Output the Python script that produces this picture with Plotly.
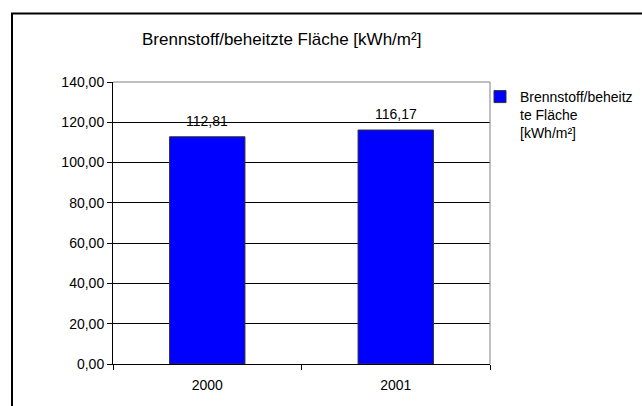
import plotly.graph_objects as go

# ── Daten ────────────────────────────────────────────────────────────────────
YEARS = ["2000", "2001"]
VALUES = [112.81, 116.17]
SERIES_NAME = "Brennstoff/beheitz<br>te Fläche<br>[kWh/m²]"
TITLE = "Brennstoff/beheitzte Fläche [kWh/m²]"
Y_TICKS = [0, 20, 40, 60, 80, 100, 120, 140]

FONT = "Arial, Liberation Sans, sans-serif"
BLUE = "#0000FF"
BLACK = "#000000"
GRAY = "#808080"

W, H = 642, 406
L, R, T, B = 113, 152, 82, 42
PW, PH = W - L - R, H - T - B


def px_x(px):
    return (px - L) / PW


def px_y(py):
    return (H - B - py) / PH


def de(v):
    return f"{v:.2f}".replace(".", ",")


fig = go.Figure(go.Bar(
    x=YEARS,
    y=VALUES,
    name=SERIES_NAME,
    width=0.4,
    marker=dict(color=BLUE, line=dict(color="#333333", width=1)),
    showlegend=True,
))

# Datenbeschriftungen über den Balken (Kategorie-Index als x)
ann = [dict(
    x=i, y=v, xref="x", yref="y",
    text=de(v),
    showarrow=False, yanchor="bottom", yshift=6,
    font=dict(size=14, color=BLACK, family=FONT),
) for i, v in enumerate(VALUES)]

ann.append(dict(
    text=TITLE, x=px_x(281), y=px_y(40), xref="paper", yref="paper",
    showarrow=False, xanchor="center", yanchor="middle",
    font=dict(size=17, color=BLACK, family=FONT),
))

shapes = [
    # Rahmen des Diagrammbereichs
    dict(type="rect", xref="paper", yref="paper",
         x0=px_x(12), x1=px_x(700), y0=px_y(450), y1=px_y(13.5),
         line=dict(color=BLACK, width=2), layer="below"),
    # Zeichnungsfläche oben / rechts grau
    dict(type="line", xref="paper", yref="paper", x0=0, x1=1, y0=1, y1=1,
         line=dict(color=GRAY, width=1)),
    dict(type="line", xref="paper", yref="paper", x0=1, x1=1, y0=0, y1=1,
         line=dict(color=GRAY, width=1)),
]

fig.update_layout(
    width=W, height=H,
    margin=dict(l=L, r=R, t=T, b=B, autoexpand=False),
    paper_bgcolor="white",
    plot_bgcolor="white",
    font=dict(family=FONT, size=14, color=BLACK),
    xaxis=dict(
        type="category", range=[-0.5, 1.5],
        showline=True, linecolor=BLACK, linewidth=1,
        ticks="outside", ticklen=5, tickcolor=BLACK, tickson="boundaries",
        ticklabelstandoff=8,
        tickfont=dict(size=14), showgrid=False,
    ),
    yaxis=dict(
        range=[0, 140], tickvals=Y_TICKS, ticktext=[de(t) for t in Y_TICKS],
        showline=True, linecolor=BLACK, linewidth=1,
        ticks="outside", ticklen=5, tickcolor=BLACK,
        gridcolor=BLACK, gridwidth=1, zeroline=False,
        tickfont=dict(size=14), automargin=False,
    ),
    legend=dict(
        x=px_x(480), y=px_y(81), xanchor="left", yanchor="top",
        font=dict(size=14), valign="top", itemwidth=30,
        bgcolor="rgba(0,0,0,0)", tracegroupgap=0,
    ),
    annotations=ann,
    shapes=shapes,
    bargap=0.6,
)

fig.write_html(
    "out.html",
    config={"displayModeBar": False},
    post_script="document.body.style.margin='0';",
)
